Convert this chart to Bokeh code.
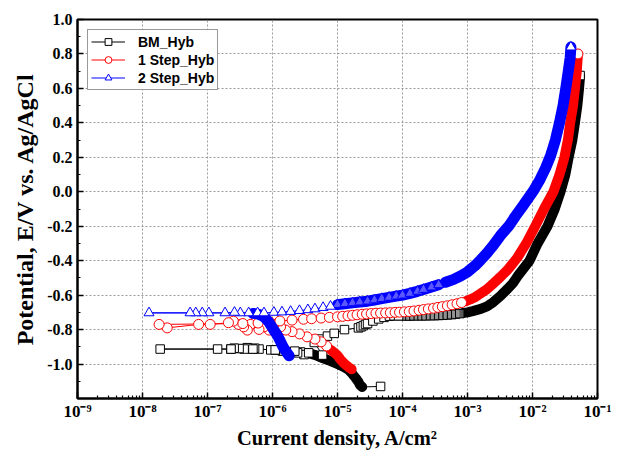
from bokeh.plotting import figure
from bokeh.models import (FixedTicker, SingleIntervalTicker, PrintfTickFormatter, Legend, LegendItem,
                          CustomJSTickFormatter)
from bokeh.embed import file_html
from bokeh.resources import INLINE

# ---------------- data (current density A/cm2, potential V vs Ag/AgCl) ----------------
# BM_Hyb
bm_start_i = [4.6e-5]
bm_start_E = [-1.13]
bm_cath_i = [2.4e-5, 2.2e-5, 2.1e-5, 1.9e-5, 1.7e-5, 1.5e-5, 1.25e-5, 1.0e-5, 7.9e-6, 5.9e-6, 4.6e-6, 3.5e-6]
bm_cath_E = [-1.133, -1.12, -1.104, -1.081, -1.058, -1.035, -1.017, -1.0, -0.983, -0.965, -0.948, -0.936]
bm_mid_i = [2.7e-6, 3.06e-6, 2.43e-6, 1.91e-6, 1.43e-6, 1.12e-6, 9.4e-7, 6.2e-7, 5.3e-7, 4.9e-7,
            4.1e-7, 3.66e-7, 3.06e-7, 2.57e-7, 2.28e-7, 1.43e-7, 1.87e-8, 2.3e-7, 5e-7, 1.1e-6,
            2.2e-6, 3.6e-6, 5.9e-6, 4.4e-6, 5.6e-6, 7e-6, 8.9e-6, 1.28e-5, 2.1e-5, 2.3e-5,
            2.5e-5, 2.7e-5, 2.9e-5, 3.5e-5, 4.3e-5, 5.2e-5, 6.3e-5, 7.4e-5, 8.7e-5]
bm_mid_E = [-0.93, -0.945, -0.935, -0.93, -0.925, -0.92, -0.918, -0.913, -0.908, -0.913,
            -0.905, -0.913, -0.91, -0.908, -0.913, -0.913, -0.913, -0.913, -0.913, -0.918,
            -0.925, -0.935, -0.948, -0.875, -0.855, -0.838, -0.822, -0.80, -0.79, -0.784,
            -0.777, -0.77, -0.765, -0.75, -0.738, -0.729, -0.722, -0.72, -0.72]
bm_semi_i = [1.0e-4, 1.15e-4, 1.3e-4, 1.5e-4, 1.75e-4, 2e-4, 2.3e-4, 2.7e-4, 3.1e-4, 3.6e-4,
             4.2e-4, 4.9e-4, 5.7e-4, 6.6e-4, 7.6e-4]
bm_semi_E = [-0.72, -0.721, -0.721, -0.72, -0.72, -0.72, -0.72, -0.719, -0.719, -0.718,
             -0.717, -0.715, -0.713, -0.71, -0.707]
bm_anod_i = [8.5e-4, 1.0e-3, 1.2e-3, 1.6e-3, 2.0e-3, 2.5e-3, 3.3e-3, 4.1e-3, 5e-3, 5.9e-3, 7.3e-3, 9e-3,
             1.2e-2, 1.7e-2, 2.2e-2, 2.7e-2, 3.2e-2, 3.6e-2, 4.1e-2, 4.5e-2, 4.9e-2, 5.2e-2, 5.4e-2]
bm_anod_E = [-0.704, -0.70, -0.693, -0.68, -0.665, -0.64, -0.60, -0.565, -0.53, -0.49, -0.445, -0.40,
             -0.30, -0.20, -0.10, 0.0, 0.1, 0.2, 0.3, 0.4, 0.5, 0.6, 0.675]

# 1 Step_Hyb
rd_cath_i = [1.65e-5, 1.5e-5, 1.4e-5, 1.25e-5, 1.12e-5, 1.0e-5, 9e-6, 7.9e-6]
rd_cath_E = [-1.03, -1.02, -1.01, -0.995, -0.975, -0.95, -0.935, -0.918]
rd_mid_i = [6.8e-6, 5.6e-6, 4.5e-6, 3.4e-6, 2.6e-6, 2.0e-6, 1.6e-6,
            1.33e-6, 1.05e-6, 8.9e-7, 7.4e-7, 6.2e-7, 5.3e-7, 4.6e-7, 4.1e-7, 3.6e-7, 3.0e-7,
            2.5e-7, 2.1e-7, 1.1e-7, 7.3e-8, 2.4e-8, 1.8e-8,
            3.5e-7, 6e-7, 9e-7, 1.3e-6, 2e-6, 3e-6, 4e-6, 5.6e-6, 7.5e-6,
            1e-5, 1.2e-5, 1.45e-5, 1.7e-5, 2e-5, 2.4e-5, 2.8e-5, 3.3e-5, 3.9e-5, 4.6e-5,
            5.5e-5, 6.5e-5, 7.7e-5, 9e-5, 1.07e-4, 1.27e-4, 1.5e-4, 1.8e-4, 2.1e-4, 2.5e-4,
            3e-4, 3.5e-4, 4.1e-4, 4.9e-4, 5.8e-4, 6.9e-4, 8.1e-4]
rd_mid_E = [-0.895, -0.871, -0.855, -0.842, -0.825, -0.812, -0.803,
            -0.784, -0.77, -0.803, -0.784, -0.799, -0.76, -0.77, -0.803, -0.784, -0.77,
            -0.751, -0.76, -0.77, -0.77, -0.79, -0.77,
            -0.765, -0.762, -0.755, -0.75, -0.745, -0.74, -0.737, -0.733, -0.729,
            -0.726, -0.723, -0.72, -0.717, -0.714, -0.711, -0.709, -0.707, -0.705, -0.704,
            -0.703, -0.702, -0.70, -0.699, -0.697, -0.695, -0.692, -0.688, -0.684, -0.68,
            -0.676, -0.671, -0.667, -0.662, -0.656, -0.65, -0.643]
rd_anod_i = [9.3e-4, 1.1e-3, 1.3e-3, 1.6e-3, 2e-3, 2.5e-3, 3.2e-3, 4.1e-3, 5e-3, 5.9e-3, 8e-3, 1.1e-2,
             1.5e-2, 2.1e-2, 2.6e-2, 3.1e-2, 3.5e-2, 3.8e-2, 4.2e-2, 4.5e-2, 4.8e-2, 5.0e-2]
rd_anod_E = [-0.636, -0.625, -0.612, -0.59, -0.565, -0.532, -0.495, -0.455, -0.415, -0.38, -0.3, -0.2,
             -0.1, 0.0, 0.1, 0.2, 0.3, 0.4, 0.5, 0.6, 0.7, 0.8]

# 2 Step_Hyb
bl_cath_i = [1.8e-6, 1.6e-6, 1.45e-6, 1.35e-6, 1.25e-6, 1.15e-6, 1.05e-6, 9.6e-7, 8.8e-7, 7.8e-7, 7.0e-7, 6e-7, 5e-7]
bl_cath_E = [-0.952, -0.925, -0.9, -0.875, -0.849, -0.825, -0.803, -0.78, -0.757, -0.735, -0.72, -0.71, -0.706]
bl_mid_i = [4.3e-7, 3.2e-7, 2.6e-7, 1.86e-7, 1.05e-7, 8.3e-8, 6.6e-8, 5.4e-8, 1.26e-8, 5.9e-7, 7.4e-7,
            1.05e-6, 1.4e-6, 1.9e-6, 2.6e-6, 3.5e-6, 4.5e-6, 6e-6, 7.8e-6]
bl_mid_E = [-0.703, -0.703, -0.70, -0.703, -0.703, -0.703, -0.703, -0.703, -0.703, -0.703, -0.703,
            -0.70, -0.698, -0.695, -0.69, -0.685, -0.68, -0.672, -0.665]
bl_semi_i = [1e-5, 1.3e-5, 1.7e-5, 2.2e-5, 2.9e-5, 3.7e-5, 4.8e-5, 6.2e-5, 8e-5, 1e-4, 1.3e-4,
             1.7e-4, 2.1e-4, 2.8e-4, 3.6e-4]
bl_semi_E = [-0.655, -0.65, -0.645, -0.64, -0.635, -0.628, -0.62, -0.613, -0.606, -0.60, -0.59,
             -0.578, -0.567, -0.553, -0.54]
bl_anod_i = [4.6e-4, 6e-4, 7.7e-4, 1e-3, 1.3e-3, 1.6e-3, 2e-3, 2.5e-3, 3.2e-3, 4.3e-3, 5.5e-3, 7e-3,
             8.7e-3, 1.05e-2, 1.3e-2, 1.6e-2, 1.9e-2, 2.25e-2, 2.6e-2, 2.95e-2, 3.25e-2, 3.55e-2, 3.8e-2, 3.9e-2]
bl_anod_E = [-0.525, -0.51, -0.49, -0.465, -0.43, -0.395, -0.355, -0.31, -0.255, -0.2, -0.14, -0.085,
             -0.035, 0.01, 0.07, 0.14, 0.21, 0.3, 0.4, 0.5, 0.6, 0.7, 0.78, 0.84]

labels = ["BM_Hyb", "1 Step_Hyb", "2 Step_Hyb"]
x_ticks = [1e-9, 1e-8, 1e-7, 1e-6, 1e-5, 1e-4, 1e-3, 1e-2, 1e-1]
y_title = "Potential, E/V vs. Ag/AgCl"
x_title = "Current density, A/cm\u00b2"

# ---------------- figure ----------------
p = figure(width=618, height=454, x_axis_type="log", x_range=(1e-9, 1e-1), y_range=(-1.2, 1.0),
           output_backend="svg", toolbar_location=None,
           min_border_left=77, min_border_right=21, min_border_top=19, min_border_bottom=56)
p.background_fill_color = "white"
p.border_fill_color = "white"
p.outline_line_color = "black"
p.outline_line_width = 2

minor = [k * t for t in x_ticks[:-1] for k in range(2, 10)]
p.xaxis.ticker = FixedTicker(ticks=x_ticks, minor_ticks=minor)
p.xaxis.formatter = CustomJSTickFormatter(code=r"""
const e = Math.round(Math.log10(tick));
const m = {'-':'\u207b','0':'\u2070','1':'\u00b9','2':'\u00b2','3':'\u00b3','4':'\u2074',
           '5':'\u2075','6':'\u2076','7':'\u2077','8':'\u2078','9':'\u2079'};
return '10' + String(e).split('').map(c => m[c]).join('');
""")
p.yaxis.ticker = SingleIntervalTicker(interval=0.2, num_minor_ticks=2)
p.yaxis.formatter = PrintfTickFormatter(format="%.1f")

for ax in (p.xaxis[0], p.yaxis[0]):
    ax.axis_line_width = 2
    ax.axis_line_color = "black"
    ax.major_tick_in = 6
    ax.major_tick_out = 0
    ax.minor_tick_in = 3
    ax.minor_tick_out = 0
    ax.major_tick_line_width = 1.5
    ax.minor_tick_line_width = 1.2
    ax.major_tick_line_color = "black"
    ax.minor_tick_line_color = "black"
    ax.major_label_text_font = "Liberation Serif"
    ax.major_label_text_font_style = "bold"
    ax.major_label_text_font_size = "16px"
    ax.major_label_text_color = "black"
    ax.axis_label_text_font = "Liberation Serif"
    ax.axis_label_text_font_style = "bold"
    ax.axis_label_text_color = "black"

p.xaxis.major_label_text_font_size = "17px"
p.xaxis.axis_label_text_font_size = "20.5px"
p.yaxis.axis_label_text_font_size = "24px"
p.xaxis.axis_label = x_title
p.yaxis.axis_label = y_title
p.xaxis.major_label_standoff = 3
p.xaxis.axis_label_standoff = 3
p.yaxis.major_label_standoff = 5
p.yaxis.axis_label_standoff = 6

for g in (p.xgrid[0], p.ygrid[0]):
    g.grid_line_color = "#9a9a9a"
    g.grid_line_dash = "2 2"
    g.grid_line_width = 1

series = [
    dict(start=(bm_start_i, bm_start_E), cath=(bm_cath_i, bm_cath_E), mid=(bm_mid_i, bm_mid_E),
         semi=(bm_semi_i, bm_semi_E), anod=(bm_anod_i, bm_anod_E),
         col="black", mk="square", ms=8.5, bw=10, sw=7),
    dict(start=([], []), cath=(rd_cath_i, rd_cath_E), mid=(rd_mid_i, rd_mid_E),
         semi=([], []), anod=(rd_anod_i, rd_anod_E),
         col="red", mk="circle", ms=10, bw=10, sw=7),
    dict(start=([], []), cath=(bl_cath_i, bl_cath_E), mid=(bl_mid_i, bl_mid_E),
         semi=(bl_semi_i, bl_semi_E), anod=(bl_anod_i, bl_anod_E),
         col="blue", mk="triangle", ms=10, bw=11, sw=11),
]

items = []
for lab, s in zip(labels, series):
    col = s["col"]
    segs = [s["start"], s["cath"], s["mid"], s["semi"], s["anod"]]
    path_i = sum((list(a) for a, b in segs), [])
    path_E = sum((list(b) for a, b in segs), [])
    ln = p.line(path_i, path_E, line_color=col, line_width=1)
    for key in ("cath", "anod"):
        p.line(s[key][0], s[key][1], line_color=col, line_width=s["bw"], line_cap="round", line_join="round")
    if s["semi"][0]:
        p.line(s["semi"][0], s["semi"][1], line_color=col, line_width=s["sw"], line_cap="round", line_join="round")
        p.scatter(s["semi"][0], s["semi"][1], marker=s["mk"], size=s["ms"], line_color=col,
                  fill_color="white", fill_alpha=0.35, line_width=1)
    mx = list(s["start"][0]) + list(s["mid"][0]) + [s["anod"][0][-1]]
    my = list(s["start"][1]) + list(s["mid"][1]) + [s["anod"][1][-1]]
    sc = p.scatter(mx, my, marker=s["mk"], size=s["ms"], line_color=col, fill_color="white", line_width=1)
    items.append(LegendItem(label=lab, renderers=[ln, sc]))

legend = Legend(items=items, location="top_left", margin=10, padding=3, spacing=1,
                glyph_width=34, glyph_height=17, label_height=17, label_standoff=13,
                label_text_font="Liberation Sans", label_text_font_style="bold",
                label_text_font_size="14px", label_text_color="black",
                border_line_color="#333333", border_line_width=1, background_fill_alpha=1)
p.add_layout(legend)

open("out.html", "w").write(file_html(p, INLINE))
